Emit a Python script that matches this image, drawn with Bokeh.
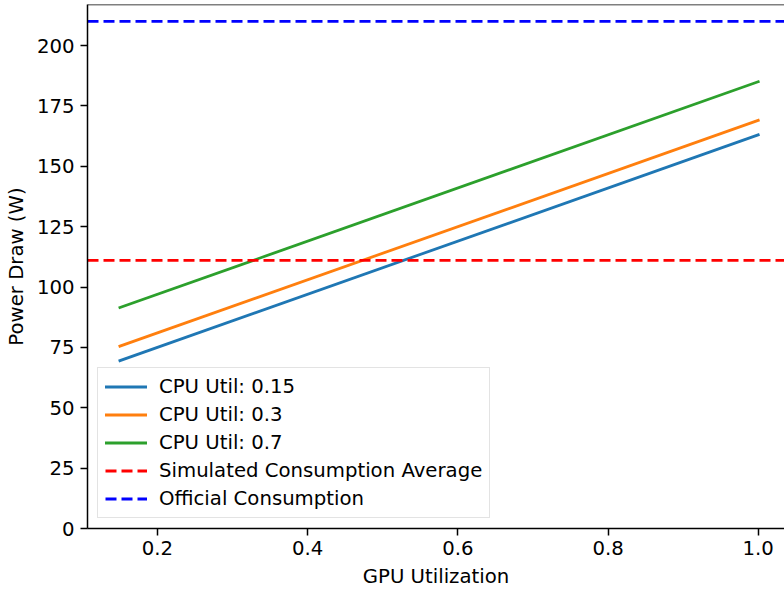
from bokeh.plotting import figure
from bokeh.models import (ColumnDataSource, FixedTicker, PrintfTickFormatter,
                          Span, Legend, LegendItem)
from bokeh.embed import file_html
from bokeh.resources import INLINE

# GPU utilisation sweep (end points of each modelled line)
gpu_util = [0.15, 1.0]

# Modelled power draw (W) for three CPU utilisation levels
power_cpu_015 = [69.5, 163.0]
power_cpu_030 = [75.5, 169.0]
power_cpu_070 = [91.5, 185.0]

# Reference consumption levels (W)
simulated_average = 111.0
official_consumption = 210.0

series_labels = ["CPU Util: 0.15", "CPU Util: 0.3", "CPU Util: 0.7"]
series_colors = ["#1f77b4", "#ff7f0e", "#2ca02c"]

x_ticks = [0.2, 0.4, 0.6, 0.8, 1.0]
y_ticks = [0, 25, 50, 75, 100, 125, 150, 175, 200]

# Axis limits
x_lo, x_hi = 0.1068, 1.035
y_lo, y_hi = 0, 217

FONT = "DejaVu Sans"
FS = "19.7px"
LW = 2.8
DASH = "11 5"

p = figure(frame_width=697, frame_height=524,
           x_range=(x_lo, x_hi), y_range=(y_lo, y_hi),
           min_border_left=87, min_border_top=4,
           min_border_right=0, min_border_bottom=61,
           output_backend="svg", toolbar_location=None, title=None)
p.background_fill_color = "white"
p.border_fill_color = "white"
p.outline_line_color = None
p.xgrid.visible = False
p.ygrid.visible = False

# Axes styled as plain spines with outward ticks
for ax in (p.xaxis[0], p.yaxis[0]):
    ax.axis_line_color = "black"
    ax.axis_line_width = 1.5
    ax.major_tick_line_color = "black"
    ax.major_tick_line_width = 1.5
    ax.major_tick_out = 7
    ax.major_tick_in = 0
    ax.minor_tick_line_color = None
    ax.major_label_text_font = FONT
    ax.major_label_text_font_size = FS
    ax.major_label_text_color = "black"
    ax.axis_label_text_font = FONT
    ax.axis_label_text_font_size = FS
    ax.axis_label_text_font_style = "normal"
    ax.axis_label_text_color = "black"

p.xaxis[0].ticker = FixedTicker(ticks=x_ticks)
p.xaxis[0].formatter = PrintfTickFormatter(format="%.1f")
p.xaxis[0].major_label_standoff = 5
p.xaxis[0].axis_label = "GPU Utilization"
p.xaxis[0].axis_label_standoff = 7

p.yaxis[0].ticker = FixedTicker(ticks=y_ticks)
p.yaxis[0].formatter = PrintfTickFormatter(format="%d")
p.yaxis[0].major_label_standoff = 6
p.yaxis[0].axis_label = "Power Draw (W)"
p.yaxis[0].axis_label_standoff = 6

# Top spine
p.add_layout(Span(location=y_hi, dimension="width", line_color="black",
                  line_width=1.5))

items = []
for ys, label, color in zip([power_cpu_015, power_cpu_030, power_cpu_070],
                            series_labels, series_colors):
    src = ColumnDataSource(data=dict(x=gpu_util, y=ys))
    r = p.line("x", "y", source=src, line_color=color, line_width=LW,
               line_cap="square")
    items.append(LegendItem(label=label, renderers=[r]))

# Horizontal reference lines running across the full x extent
for level, color, label in [
        (simulated_average, "red", "Simulated Consumption Average"),
        (official_consumption, "blue", "Official Consumption")]:
    src = ColumnDataSource(data=dict(x=[x_lo, x_hi], y=[level, level]))
    r = p.line("x", "y", source=src, line_color=color, line_width=LW,
               line_dash=DASH)
    items.append(LegendItem(label=label, renderers=[r]))

legend = Legend(items=items, location=(10, 10), margin=0, padding=7,
                spacing=5, glyph_width=42, glyph_height=23, label_height=23,
                label_standoff=12,
                label_text_font=FONT, label_text_font_size=FS,
                label_text_color="black",
                border_line_color="#c8c8c8", border_line_width=1.5,
                background_fill_color="white", background_fill_alpha=0.8)
p.add_layout(legend, "center")

open("out.html", "w").write(file_html(p, INLINE))
